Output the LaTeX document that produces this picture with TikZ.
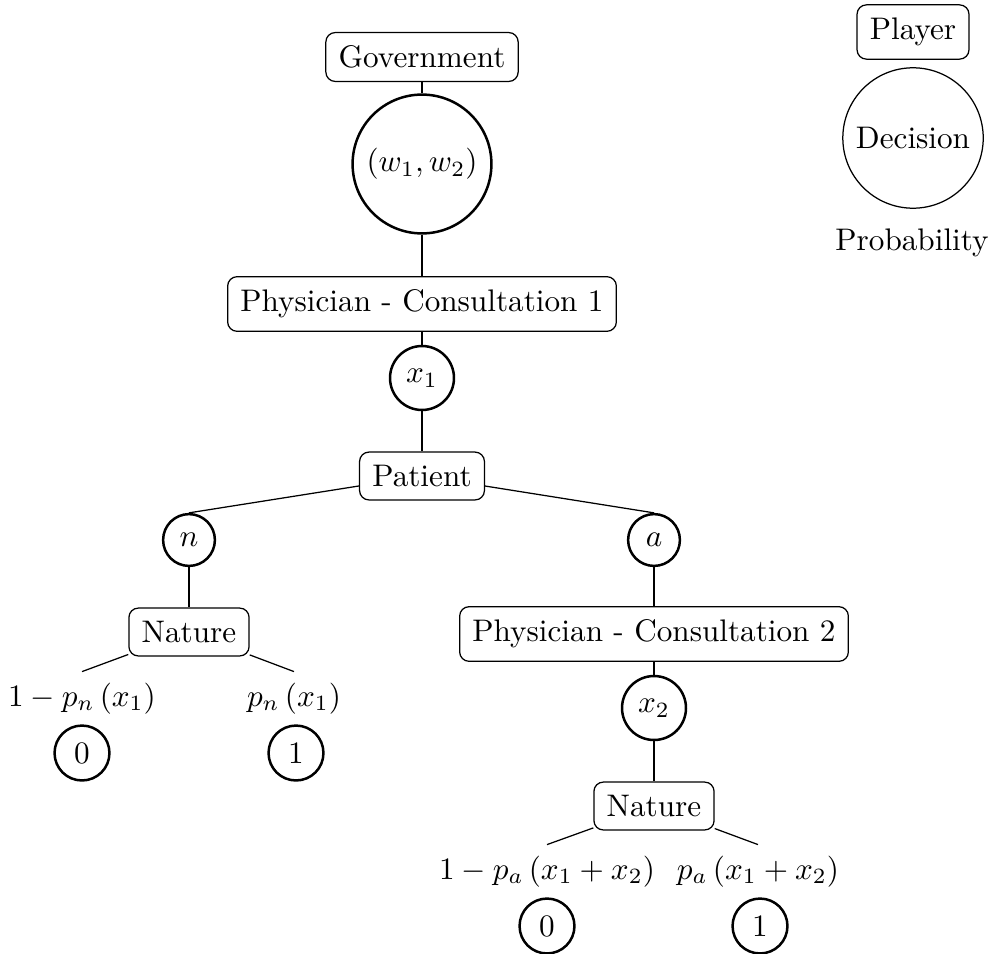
\documentclass[tikz,border=0pt]{standalone}
\begin{document}
\begin{tikzpicture}[x=0.3205pt,y=-0.3205pt,
  player/.style={draw, rounded corners=3pt, inner xsep=4.1pt, inner ysep=4.2pt},
  dec/.style={draw, circle, thick, inner sep=0pt},
  lab/.style={inner sep=3.33pt, anchor=base}]
\useasboundingbox (0,0) rectangle (991,953);
% tree
\node[player] (gov) at (422,57) {Government};
\node[dec, minimum size=44.5pt] (w) at (422,164) {$(w_1,w_2)$};
\node[player] (p1) at (422,304) {Physician - Consultation 1};
\node[dec, minimum size=20.5pt] (x1) at (422,378) {$x_1$};
\node[player] (pat) at (422,476) {Patient};
\node[dec, minimum size=16.6pt] (n) at (189,540) {$n$};
\node[dec, minimum size=16.6pt] (a) at (654,540) {$a$};
\node[player] (nat1) at (189,632) {Nature};
\node[player] (p2) at (654,634) {Physician - Consultation 2};
\node[dec, minimum size=20.5pt] (x2) at (654,708) {$x_2$};
\node[player] (nat2) at (654,806) {Nature};
\node[lab] (l1) at (82,706) {$1-p_n\left(x_1\right)$};
\node[lab] (l2) at (294,706) {$p_n\left(x_1\right)$};
\node[dec, minimum size=17.6pt] (o1) at (82,753) {$0$};
\node[dec, minimum size=17.6pt] (o2) at (296,753) {$1$};
\node[lab] (l3) at (547,879) {$1-p_a\left(x_1+x_2\right)$};
\node[lab] (l4) at (758,879) {$p_a\left(x_1+x_2\right)$};
\node[dec, minimum size=17.6pt] (o3) at (547,926) {$0$};
\node[dec, minimum size=17.6pt] (o4) at (760,926) {$1$};
% legend
\node[player] (lp) at (913,32) {Player};
\node[draw, circle, minimum size=45pt, inner sep=0pt] (ld) at (913,138) {Decision};
\node[anchor=base, inner sep=0pt] (lpr) at (912,250) {Probability};
% connectors
\draw (gov) -- (w);
\draw (w) -- (p1);
\draw (p1) -- (x1);
\draw (x1) -- (pat);
\draw (pat) -- (n.north);
\draw (pat) -- (a.north);
\draw (n) -- (nat1);
\draw (a) -- (p2);
\draw (p2) -- (x2);
\draw (x2) -- (nat2);
\draw (nat1) -- (l1.north);
\draw (nat1) -- (l2.north);
\draw (nat2) -- (l3.north);
\draw (nat2) -- (l4.north);
\end{tikzpicture}
\end{document}
